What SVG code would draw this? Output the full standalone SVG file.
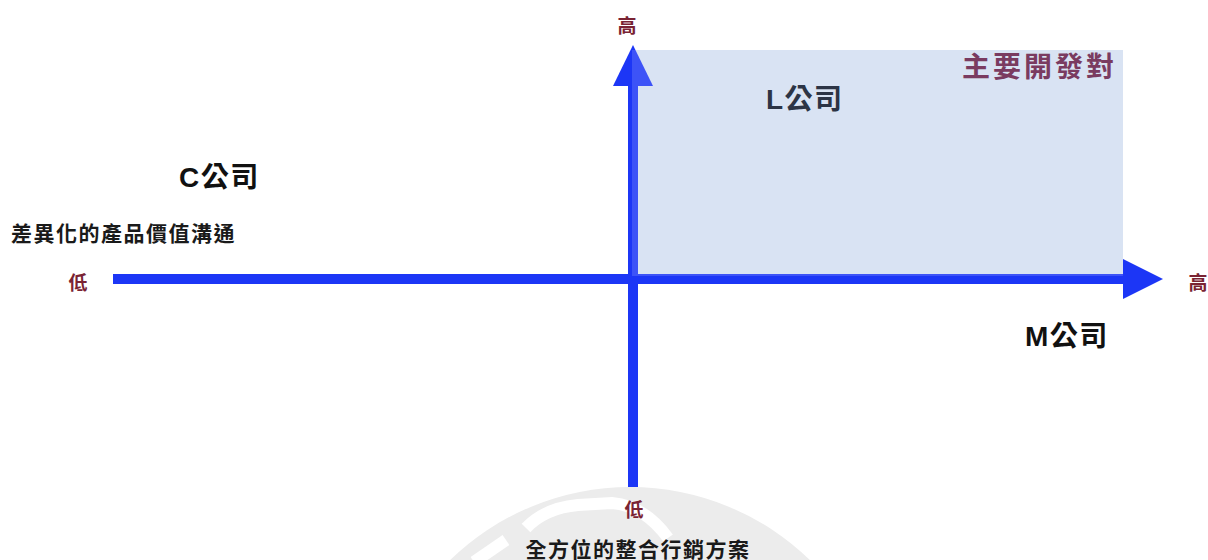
<svg xmlns="http://www.w3.org/2000/svg" width="1208" height="560" viewBox="0 0 1208 560">
  <style>
    text { font-family: "Liberation Sans", "Noto Sans CJK TC", sans-serif; font-weight: bold; }
    .axis { fill: #1c36f6; }
    .lvl { font-size: 19px; fill: #7a2333; text-anchor: middle; }
    .co { font-size: 28px; fill: #111111; letter-spacing: 1.5px; }
    .desc { font-size: 21px; fill: #1a1a1a; letter-spacing: 1.5px; }
  </style>
  <rect width="1208" height="560" fill="#ffffff"/>
  <g id="watermark">
    <circle cx="630" cy="745" r="258" fill="#ececec"/>
    <path d="M 526 528 Q 545 508 578 505 L 612 503 Q 645 506 668 538" fill="none" stroke="#ffffff" stroke-width="12"/>
    <path d="M 474 562 L 506 540" fill="none" stroke="#ffffff" stroke-width="12"/>
  </g>
  <g id="quadrant">
    <rect x="632" y="50" width="491" height="226" fill="#d3def1"/>
  </g>
  <g id="connectors">
    <rect class="axis" x="113" y="274" width="1012" height="10"/>
    <polygon class="axis" points="1123,259 1163,279 1123,299"/>
    <rect class="axis" x="628" y="84" width="10" height="403"/>
    <polygon class="axis" points="613,86 633,45 653,86"/>
  </g>
  <rect x="632" y="50" width="491" height="226" fill="#ffffff" fill-opacity="0.15"/>
  <g id="label-target">
    <text x="962" y="77" font-size="28" fill="#7a3b60" letter-spacing="3">主要開發對</text>
  </g>
  <g id="node-L">
    <text class="co" x="766" y="109" style="fill:#2c3445">L公司</text>
  </g>
  <g id="node-C">
    <text class="co" x="179" y="187">C公司</text>
  </g>
  <g id="node-M">
    <text class="co" x="1025" y="346">M公司</text>
  </g>
  <g id="axis-x-labels">
    <text class="desc" x="11" y="241">差異化的產品價值溝通</text>
    <text class="lvl" x="78" y="290">低</text>
    <text class="lvl" x="1198" y="290">高</text>
  </g>
  <g id="axis-y-labels">
    <text class="lvl" x="627" y="33">高</text>
    <text class="lvl" x="634" y="517">低</text>
    <text class="desc" x="638" y="557" text-anchor="middle">全方位的整合行銷方案</text>
  </g>
</svg>
